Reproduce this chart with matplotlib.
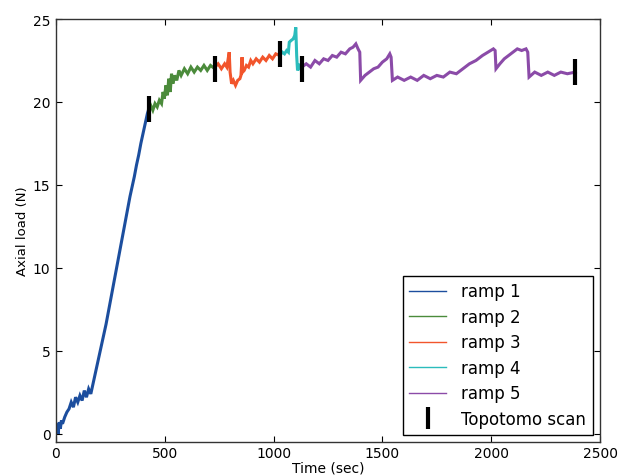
import matplotlib
matplotlib.use("Agg")
import matplotlib.pyplot as plt
from matplotlib.lines import Line2D

# ---- data ----
ramp1_t = [0, 5, 10, 15, 20, 25, 30, 40, 50, 60, 70, 80, 90, 100, 110, 120, 130, 140, 150, 160,
           170, 180, 190, 200, 210, 220, 230, 240, 250, 260, 270, 280, 290, 300, 310, 320, 330,
           340, 350, 360, 370, 380, 390, 400, 410, 420, 427]
ramp1_v = [0.1, 0.6, 0.0, 0.7, 0.3, 0.8, 0.6, 1.0, 1.3, 1.5, 1.9, 1.6, 2.2, 1.9, 2.3, 2.0, 2.6, 2.2, 2.7, 2.4,
           3.0, 3.6, 4.2, 4.8, 5.4, 6.0, 6.6, 7.3, 8.0, 8.7, 9.4, 10.1, 10.8, 11.5, 12.2, 12.9, 13.6,
           14.3, 14.9, 15.5, 16.2, 16.8, 17.5, 18.1, 18.7, 19.3, 19.6]

ramp2_t = [427, 435, 445, 455, 465, 475, 485, 492, 498, 505, 512, 518, 525, 531, 537, 545, 555, 565,
           575, 590, 605, 620, 635, 650, 665, 680, 695, 710, 730]
ramp2_v = [19.6, 19.8, 19.5, 19.9, 19.7, 20.1, 19.9, 20.6, 20.2, 21.0, 20.4, 21.4, 20.6, 21.7, 21.1,
           21.6, 21.3, 21.9, 21.6, 22.0, 21.7, 22.1, 21.8, 22.1, 21.9, 22.2, 21.9, 22.2, 22.0]

ramp3_t = [730, 745, 760, 775, 785, 790, 796, 800, 807, 815, 825, 835, 845, 850, 855, 858, 865, 875,
           885, 895, 905, 920, 935, 950, 965, 980, 995, 1010, 1028]
ramp3_v = [22.1, 22.3, 22.0, 22.3, 22.1, 22.5, 23.0, 21.8, 21.1, 21.3, 21.0, 21.3, 21.4, 21.6, 22.7,
           21.8, 21.9, 22.2, 22.1, 22.5, 22.3, 22.6, 22.4, 22.7, 22.5, 22.8, 22.6, 22.9, 22.8]

ramp4_t = [1028, 1040, 1050, 1060, 1068, 1072, 1080, 1090, 1097, 1102, 1106, 1110, 1118, 1125, 1130]
ramp4_v = [22.8, 23.0, 22.9, 23.1, 23.0, 23.6, 23.7, 23.8, 24.0, 24.5, 22.8, 21.9, 22.3, 22.0, 22.1]

ramp5_t = [1130, 1150, 1170, 1190, 1210, 1230, 1250, 1270, 1290, 1310, 1330, 1350, 1365, 1378, 1388,
           1396, 1400, 1420, 1440, 1460, 1480, 1500, 1520, 1534, 1540, 1546, 1570, 1600, 1630, 1660,
           1690, 1720, 1750, 1780, 1810, 1840, 1870, 1900, 1930, 1960, 1985, 2010, 2018, 2022, 2040,
           2060, 2080, 2100, 2120, 2140, 2160, 2168, 2174, 2200, 2230, 2260, 2290, 2320, 2350, 2387]
ramp5_v = [22.1, 22.3, 22.1, 22.5, 22.3, 22.6, 22.5, 22.8, 22.7, 23.0, 22.9, 23.2, 23.3, 23.5, 23.2,
           23.0, 21.3, 21.6, 21.8, 22.0, 22.1, 22.4, 22.6, 22.9, 22.7, 21.3, 21.5, 21.3, 21.5, 21.3,
           21.6, 21.4, 21.6, 21.5, 21.8, 21.7, 22.0, 22.3, 22.5, 22.8, 23.0, 23.2, 23.1, 22.0, 22.3,
           22.6, 22.8, 23.0, 23.2, 23.1, 23.2, 23.0, 21.5, 21.8, 21.6, 21.8, 21.6, 21.8, 21.7, 21.8]

scan_t = [427, 730, 1028, 1130, 2387]
scan_v = [19.6, 22.0, 22.9, 22.0, 21.8]

labels = ["ramp 1", "ramp 2", "ramp 3", "ramp 4", "ramp 5"]
colors = ["#1c4e9e", "#4b8b3b", "#f2552c", "#2bbcbc", "#8b4ba8"]

# ---- figure ----
fig = plt.figure(figsize=(6.21, 4.77), dpi=100)
ax = fig.add_axes([56 / 621, 34 / 477, 544 / 621, 423 / 477])

series = [(ramp1_t, ramp1_v), (ramp2_t, ramp2_v), (ramp3_t, ramp3_v),
          (ramp4_t, ramp4_v), (ramp5_t, ramp5_v)]
for (t, v), c in zip(series, colors):
    ax.plot(t, v, color=c, lw=2.2, solid_joinstyle="miter")

ax.plot(scan_t, scan_v, linestyle="none", marker="|", markersize=19,
        markeredgewidth=3, color="black", zorder=5)

ax.set_xlim(0, 2500)
ax.set_ylim(-0.5, 25)
ax.set_xticks([0, 500, 1000, 1500, 2000, 2500])
ax.set_yticks([0, 5, 10, 15, 20, 25])
ax.tick_params(direction="in", top=True, right=True, length=4, width=0.8,
               labelsize=10)
ax.tick_params(axis="x", pad=3)
ax.tick_params(axis="y", pad=4)
for s in ax.spines.values():
    s.set_linewidth(1.0)
    s.set_color("#333333")

ax.set_xlabel("Time (sec)", fontsize=10, labelpad=0)
ax.set_ylabel("Axial load (N)", fontsize=9.5, labelpad=3)

handles = [Line2D([], [], color=c, lw=1.0) for c in colors]
handles.append(Line2D([], [], linestyle="none", marker="|", markersize=16,
                      markeredgewidth=3, color="black"))
leg = ax.legend(handles, labels + ["Topotomo scan"], loc="lower right", fontsize=12,
                fancybox=False, framealpha=1, edgecolor="black", numpoints=1,
                handlelength=2.2, handletextpad=0.9, labelspacing=0.45,
                borderaxespad=0.45)
leg.get_frame().set_linewidth(1.0)

fig.savefig("out.png", dpi=100)
